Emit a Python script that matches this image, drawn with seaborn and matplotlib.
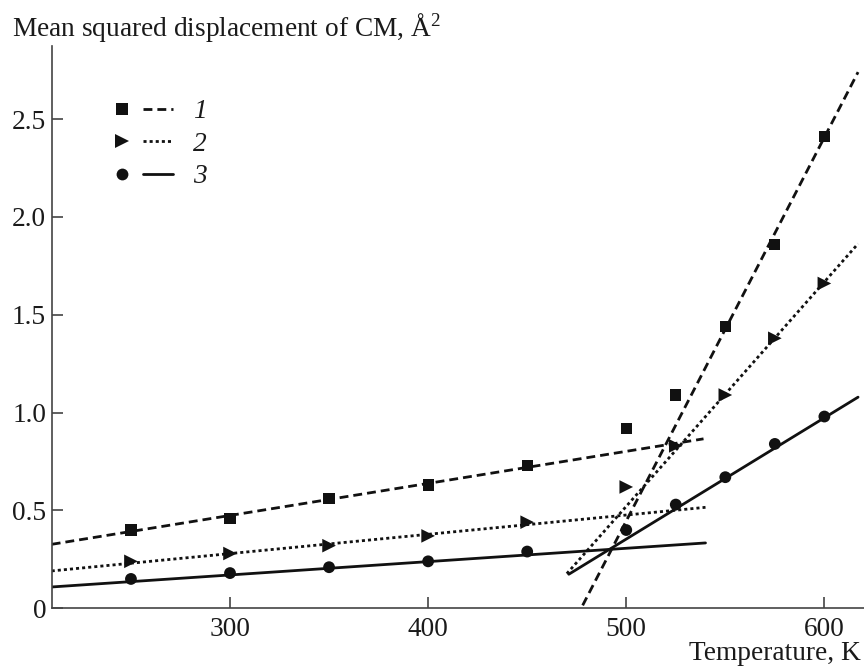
import numpy as np
import pandas as pd
import matplotlib
matplotlib.use("Agg")
import matplotlib.pyplot as plt
import seaborn as sns
from matplotlib.lines import Line2D
from matplotlib.legend_handler import HandlerTuple

# ---- data ----
temperature = [250, 300, 350, 400, 450, 500, 525, 550, 575, 600]
msd_1 = [0.40, 0.46, 0.56, 0.63, 0.73, 0.92, 1.09, 1.44, 1.86, 2.41]
msd_2 = [0.24, 0.28, 0.32, 0.37, 0.44, 0.62, 0.83, 1.09, 1.38, 1.66]
msd_3 = [0.15, 0.18, 0.21, 0.24, 0.29, 0.40, 0.53, 0.67, 0.84, 0.98]

# straight-line fits (end points)
fit1_low_x = [210, 539]
fit1_low_y = [0.327, 0.866]
fit1_high_x = [478, 617]
fit1_high_y = [0.015, 2.74]
fit2_low_x = [210, 540]
fit2_low_y = [0.191, 0.516]
fit2_high_x = [470, 617]
fit2_high_y = [0.177, 1.863]
fit3_low_x = [210, 540]
fit3_low_y = [0.109, 0.334]
fit3_high_x = [471, 617]
fit3_high_y = [0.174, 1.079]

series_labels = ["1", "2", "3"]
xticks = [300, 400, 500, 600]
xtick_labels = ["300", "400", "500", "600"]
yticks = [0, 0.5, 1.0, 1.5, 2.0, 2.5]
ytick_labels = ["0", "0.5", "1.0", "1.5", "2.0", "2.5"]
x_title = "Temperature, K"
y_title = "Mean squared displacement of CM, Å$^2$"

# ---- style ----
sns.set_theme(style="ticks")
plt.rcParams["font.family"] = ["Liberation Serif", "DejaVu Serif"]
plt.rcParams["mathtext.fontset"] = "custom"
plt.rcParams["mathtext.rm"] = "Liberation Serif"
plt.rcParams["mathtext.it"] = "Liberation Serif:italic"

INK = "#111111"
FS = 19.7
LW = 2.0
DASH = (0, (3.2, 1.8))
DOT = (0, (1.1, 1.1))

fig = plt.figure(figsize=(8.64, 6.66), dpi=100)
ax = fig.add_axes([51.7 / 864, 57.7 / 666, 1 - 51.7 / 864, 562.6 / 666])

points = pd.DataFrame({
    "T": temperature * 3,
    "msd": msd_1 + msd_2 + msd_3,
    "series": ["1"] * 10 + ["2"] * 10 + ["3"] * 10,
})

fits = [
    (fit1_low_x, fit1_low_y, DASH), (fit1_high_x, fit1_high_y, DASH),
    (fit2_low_x, fit2_low_y, DOT), (fit2_high_x, fit2_high_y, DOT),
    (fit3_low_x, fit3_low_y, "-"), (fit3_high_x, fit3_high_y, "-"),
]
for fx, fy, ls in fits:
    sns.lineplot(x=fx, y=fy, ax=ax, color=INK, lw=LW, linestyle=ls,
                 estimator=None, sort=False)

marker_style = {"1": ("s", 8.1), "2": (">", 9.8), "3": ("o", 8.5)}
for name, (mk, ms) in marker_style.items():
    sub = points[points["series"] == name]
    sns.scatterplot(data=sub, x="T", y="msd", ax=ax, marker=mk, s=ms ** 2,
                    color=INK, edgecolor="none", linewidth=0, zorder=5)

ax.set_xlim(210, 620)
ax.set_ylim(0, 2.875)
ax.set_xticks(xticks)
ax.set_xticklabels(xtick_labels)
ax.set_yticks(yticks)
ax.set_yticklabels(ytick_labels)
ax.set_xlabel("")
ax.set_ylabel("")
ax.tick_params(direction="in", length=8, width=1.2, colors="#444444",
               labelcolor="#1a1a1a", labelsize=FS)
ax.tick_params(axis="x", pad=6)
ax.tick_params(axis="y", pad=4)
for side in ["top", "right"]:
    ax.spines[side].set_visible(False)
for side in ["left", "bottom"]:
    ax.spines[side].set_color("#444444")
    ax.spines[side].set_linewidth(1.2)

fig.text(12 / 864, 1 - 36 / 666, y_title, fontsize=FS, color="#1a1a1a",
         ha="left", va="baseline")
fig.text(861 / 864, 1 - 660 / 666, x_title, fontsize=FS, color="#1a1a1a",
         ha="right", va="baseline")

# ---- legend ----
handles = [
    (Line2D([], [], marker="s", ls="none", color=INK, ms=8.1, mew=0),
     Line2D([], [], ls=DASH, color=INK, lw=LW)),
    (Line2D([], [], marker=">", ls="none", color=INK, ms=9.8, mew=0),
     Line2D([], [], ls=DOT, color=INK, lw=LW)),
    (Line2D([], [], marker="o", ls="none", color=INK, ms=8.5, mew=0),
     Line2D([], [], ls="-", color=INK, lw=LW)),
]
fs_px = FS * 100 / 72
leg = fig.legend(handles, series_labels,
                 handler_map={tuple: HandlerTuple(ndivide=None, pad=6 / fs_px)},
                 loc="upper left", bbox_to_anchor=(107 / 864, 1 - 99 / 666),
                 frameon=False, borderpad=0, borderaxespad=0,
                 handlelength=66 / fs_px, handletextpad=20 / fs_px,
                 labelspacing=0.27,
                 prop={"family": "Liberation Serif", "style": "italic", "size": FS})
for t in leg.get_texts():
    t.set_color("#1a1a1a")

fig.savefig("out.png", dpi=100)
